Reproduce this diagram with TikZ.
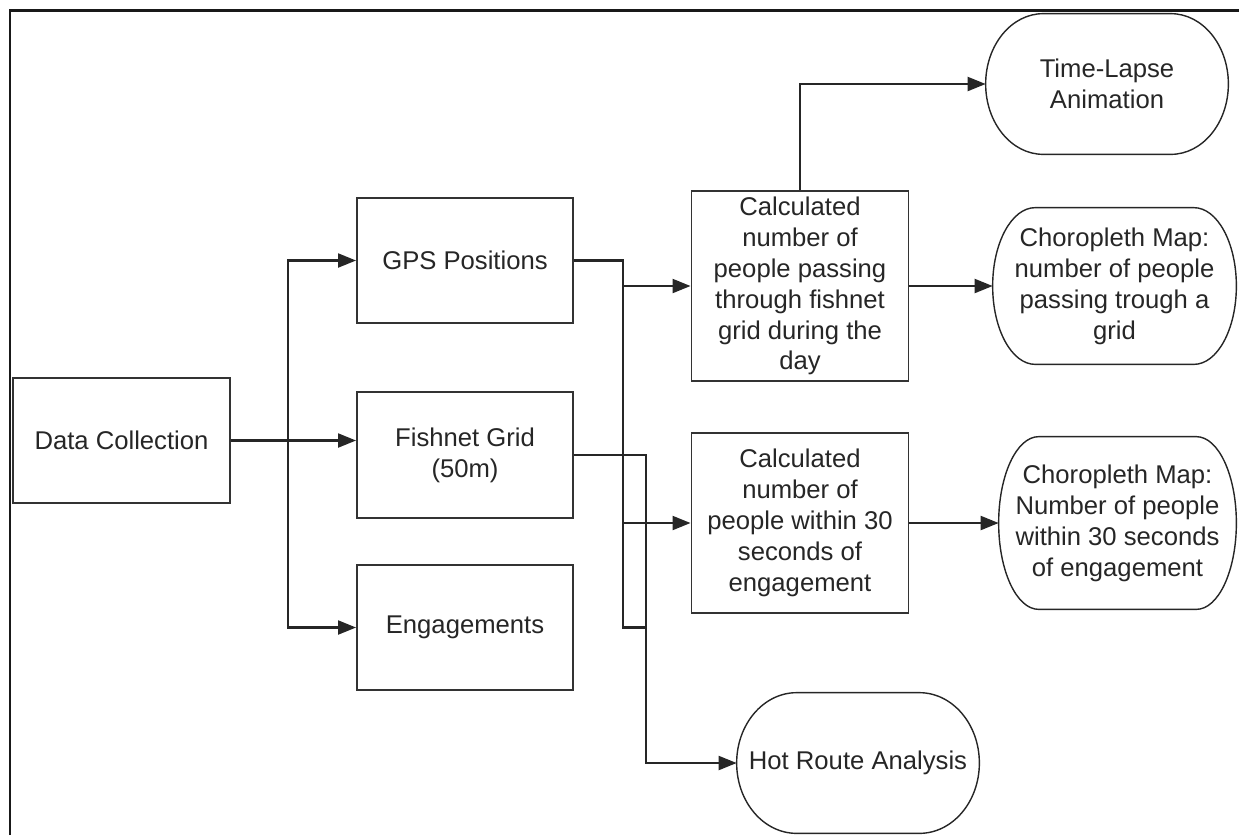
\documentclass[tikz,border=0pt]{standalone}
\usepackage{fontspec}
\setmainfont{Liberation Sans}
\usetikzlibrary{arrows.meta, calc, positioning}
\tikzset{
    procbox/.style={rectangle, draw=black!80, line width=1.1pt, fill=white,
                    align=center, minimum width=4.32cm, minimum height=2.5cm,
                    inner sep=2pt, text=black!85},
    termbox/.style={rectangle, align=center, minimum width=4.84cm,
                    minimum height=2.8cm, inner sep=0pt, text=black!85},
    termline/.style={draw=black!85, line width=0.8pt},
    arrow/.style={-{Triangle[length=0.36cm, width=0.28cm]}, line width=1.2pt, draw=black!85},
    link/.style={line width=1.2pt, draw=black!85},
}
% outline of a terminator: node name, x radius of the rounded ends
\newcommand{\termoutline}[2]{%
    \draw[termline] let \p1=(#1.north), \p2=(#1.south), \n1={(\y1-\y2)/2} in
        ([xshift=#2]#1.north west) -- ([xshift=-#2]#1.north east)
        arc[start angle=90, end angle=-90, x radius=#2, y radius=\n1]
        -- ([xshift=#2]#1.south west)
        arc[start angle=270, end angle=90, x radius=#2, y radius=\n1] -- cycle;}

\begin{document}
\begin{tikzpicture}[font=\fontsize{14.6}{17.6}\selectfont]
    \useasboundingbox (0,0) rectangle (24.78,-16.7);
    \draw[line width=1.6pt, draw=black!90] (0.2,-16.7) |- (24.78,-0.21);

    \node[procbox, minimum width=4.34cm] (datacol) at (2.43,-8.81) {Data Collection};
    \node[procbox] (gps) at (9.30,-5.21) {GPS Positions};
    \node[procbox, minimum height=2.52cm] (fishnet) at (9.30,-9.10) {Fishnet Grid\\(50m)};
    \node[procbox] (eng) at (9.30,-12.55) {Engagements};
    \node[procbox, minimum width=4.34cm, minimum height=3.8cm] (calc1) at (16.00,-5.72)
        {Calculated\\number of\\people passing\\through fishnet\\grid during the\\day};
    \node[procbox, minimum width=4.34cm, minimum height=3.6cm] (calc2) at (16.00,-10.46)
        {Calculated\\number of\\people within 30\\seconds of\\engagement};
    \node[termbox] (timelapse) at (22.14,-1.68) {Time-Lapse\\Animation};
    \node[termbox, minimum width=4.86cm, minimum height=3.12cm] (choro1) at (22.29,-5.72)
        {Choropleth Map:\\number of people\\passing trough a\\grid};
    \node[termbox, minimum width=4.74cm, minimum height=3.44cm] (choro2) at (22.35,-10.46)
        {Choropleth Map:\\Number of people\\within 30 seconds\\of engagement};
    \node[termbox] (hotroute) at (17.16,-15.26) {Hot Route Analysis};

    \termoutline{timelapse}{1.15cm}
    \termoutline{choro1}{0.85cm}
    \termoutline{choro2}{0.8cm}
    \termoutline{hotroute}{1.2cm}

    \coordinate (busin) at (5.76,-8.81);
    \coordinate (busa) at (12.46,0);
    \coordinate (busb) at (12.92,0);

    \draw[arrow] (datacol.east) -- (datacol.east -| fishnet.west);
    \draw[arrow] (busin) |- (gps.west);
    \draw[arrow] (busin) |- (eng.west);

    \draw[link] (gps.east) -| (busa |- eng.east) -- (busb |- eng.east);
    \draw[arrow] (fishnet.east) -| (busb |- hotroute.west) -- (hotroute.west);
    \draw[arrow] (busa |- calc1.west) -- (calc1.west);
    \draw[arrow] (busa |- calc2.west) -- (calc2.west);

    \draw[arrow] (calc1.north) |- (timelapse.west);
    \draw[arrow] (calc1.east) -- (calc1.east -| choro1.west);
    \draw[arrow] (calc2.east) -- (calc2.east -| choro2.west);
\end{tikzpicture}
\end{document}
